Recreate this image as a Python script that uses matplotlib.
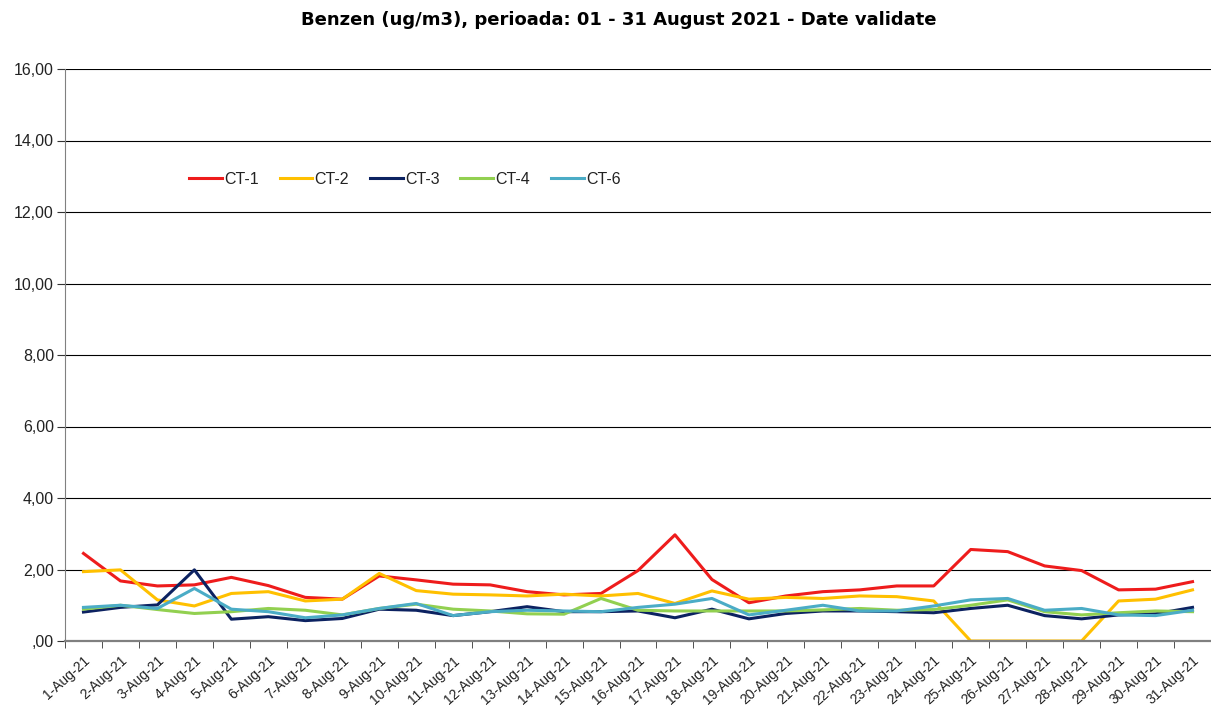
import numpy as np
import matplotlib
matplotlib.use("Agg")
import matplotlib.pyplot as plt
from matplotlib.ticker import FuncFormatter

days = [f"{d}-Aug-21" for d in range(1, 32)]

ct1 = [2.45, 1.68, 1.54, 1.57, 1.78, 1.55, 1.22, 1.17, 1.82, 1.71, 1.59, 1.57, 1.38, 1.29, 1.33,
       1.97, 2.97, 1.72, 1.07, 1.26, 1.38, 1.43, 1.54, 1.54, 2.56, 2.50, 2.10, 1.97, 1.43, 1.45, 1.66]
ct2 = [1.94, 1.99, 1.15, 0.98, 1.33, 1.38, 1.12, 1.17, 1.89, 1.41, 1.31, 1.29, 1.26, 1.31, 1.26,
       1.33, 1.05, 1.40, 1.17, 1.22, 1.19, 1.26, 1.24, 1.12, 0.0, 0.0, 0.0, 0.0, 1.12, 1.17, 1.43]
ct3 = [0.81, 0.94, 1.01, 1.99, 0.61, 0.68, 0.57, 0.63, 0.89, 0.86, 0.71, 0.82, 0.96, 0.82, 0.82,
       0.84, 0.65, 0.89, 0.62, 0.77, 0.84, 0.84, 0.82, 0.79, 0.91, 1.00, 0.71, 0.62, 0.73, 0.76, 0.94]
ct4 = [0.89, 1.00, 0.88, 0.77, 0.82, 0.91, 0.86, 0.73, 0.91, 1.03, 0.89, 0.84, 0.76, 0.75, 1.19,
       0.86, 0.84, 0.84, 0.84, 0.84, 0.87, 0.91, 0.86, 0.88, 1.00, 1.15, 0.82, 0.73, 0.79, 0.84, 0.82]
ct6 = [0.94, 1.00, 0.91, 1.47, 0.89, 0.82, 0.65, 0.73, 0.91, 1.05, 0.71, 0.82, 0.86, 0.84, 0.82,
       0.94, 1.03, 1.19, 0.73, 0.86, 1.00, 0.84, 0.84, 0.98, 1.15, 1.19, 0.86, 0.91, 0.73, 0.71, 0.86]

series = [("CT-1", ct1, "#ee1c1c"), ("CT-2", ct2, "#ffc000"), ("CT-3", ct3, "#0c2261"),
          ("CT-4", ct4, "#92d050"), ("CT-6", ct6, "#4bacc6")]

plt.rcParams["font.family"] = ["Liberation Sans", "DejaVu Sans"]
fs = 11.5

fig = plt.figure(figsize=(12.11, 7.10), dpi=100)
ax = fig.add_axes([65 / 1211, 1 - 641 / 710, 1 - 65 / 1211, 572 / 710])

x = np.arange(len(days))
for name, vals, col in series:
    ax.plot(x, vals, color=col, lw=2.2, label=name)

ax.set_xlim(-0.5, len(days) - 0.5)
ax.set_ylim(0, 16)
ax.set_yticks(np.arange(0, 17, 2))
ax.yaxis.set_major_formatter(FuncFormatter(lambda v, p: ",00" if v == 0 else f"{v:.2f}".replace(".", ",")))
ax.yaxis.grid(True, color="black", lw=0.8)
ax.set_axisbelow(True)

ax.set_xticks(x)
ax.set_xticklabels(days, rotation=42, ha="right", va="top", rotation_mode="anchor")
ax.set_xticks(np.arange(-0.5, len(days), 1), minor=True)
ax.tick_params(axis="x", which="major", length=0, pad=9, labelsize=10, labelcolor="#222222")
ax.tick_params(axis="x", which="minor", length=5, color="#333333")
ax.tick_params(axis="y", length=6, labelsize=fs, color="#333333", labelcolor="#222222", pad=2)

for s in ("top", "right"):
    ax.spines[s].set_visible(False)
ax.spines["left"].set_color("#808080")
ax.spines["bottom"].set_color("#808080")
ax.spines["bottom"].set_linewidth(1.6)
ax.spines["bottom"].set_zorder(5)

ax.legend(loc="center left", bbox_to_anchor=((189 - 65) / 1146, (641 - 179) / 572), ncol=5,
          frameon=False, fontsize=fs, handlelength=2.05, handletextpad=0.15,
          columnspacing=1.3, borderaxespad=0, borderpad=0, labelcolor="#222222")

fig.text(619 / 1211, 1 - 20 / 710, "Benzen (ug/m3), perioada: 01 - 31 August 2021 - Date validate",
         ha="center", va="center", fontsize=13, fontweight="bold", family="DejaVu Sans")

fig.savefig("out.png", dpi=100)
